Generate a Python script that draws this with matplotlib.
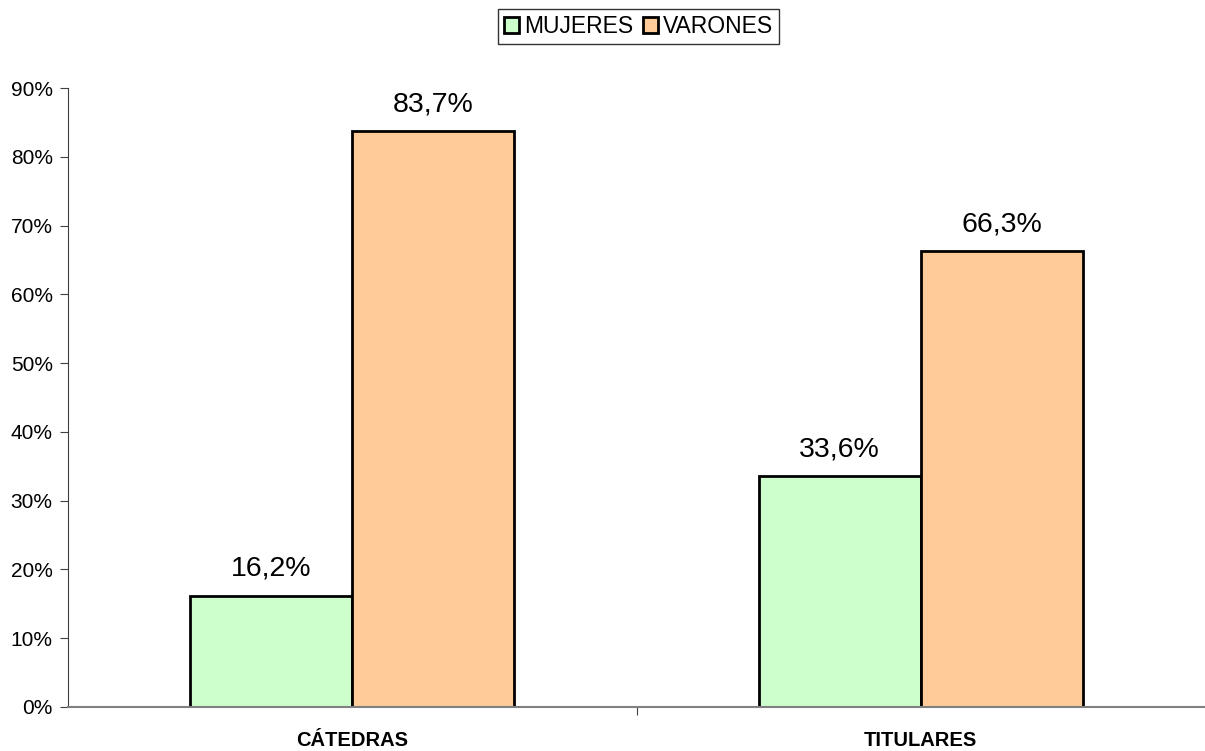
import matplotlib.pyplot as plt
import numpy as np
from matplotlib.ticker import FuncFormatter, FixedLocator

plt.rcParams['font.family'] = ['Liberation Sans', 'DejaVu Sans']

categorias = ['CÁTEDRAS', 'TITULARES']
mujeres = [16.2, 33.6]
varones = [83.7, 66.3]

fig = plt.figure(figsize=(12.05, 7.51), dpi=100)
ax = fig.add_axes([68 / 1205, 1 - 707 / 751, 1 - 68 / 1205, (707 - 88) / 751])

x = np.arange(len(categorias)) + 0.5
w = 0.285
b1 = ax.bar(x - w / 2, mujeres, w, color='#CCFFCC', edgecolor='black', linewidth=2, label='MUJERES')
b2 = ax.bar(x + w / 2, varones, w, color='#FFCC99', edgecolor='black', linewidth=2, label='VARONES')

for barras, vals in ((b1, mujeres), (b2, varones)):
    for r, v in zip(barras, vals):
        ax.text(r.get_x() + r.get_width() / 2, v + 2.0, f'{v:.1f}%'.replace('.', ','),
                ha='center', va='bottom', fontsize=20.5)

ax.set_xlim(0, 2)
ax.set_ylim(0, 90)
ax.set_yticks(np.arange(0, 91, 10))
ax.yaxis.set_major_formatter(FuncFormatter(lambda v, p: f'{v:.0f}%'))
ax.xaxis.set_major_locator(FixedLocator([1]))
ax.set_xticklabels([''])
ax.xaxis.set_minor_locator(FixedLocator(x))
ax.set_xticklabels(categorias, minor=True, fontweight='bold', fontsize=14.5)
ax.tick_params(axis='x', which='minor', length=0, pad=17)
ax.tick_params(axis='x', which='major', length=6, color='#404040')
ax.tick_params(axis='y', length=6, labelsize=15, color='#404040', pad=5)

for s in ('top', 'right'):
    ax.spines[s].set_visible(False)
ax.spines['left'].set_color('#404040')
ax.spines['bottom'].set_color('#808080')
ax.spines['bottom'].set_linewidth(1.5)

leg = fig.legend(loc='upper center', bbox_to_anchor=(0.53, 1.003), ncol=2, fontsize=16.5,
                 frameon=True, fancybox=False, edgecolor='black', handlelength=0.65,
                 handleheight=0.65, handletextpad=0.25, columnspacing=0.4, borderpad=0.25)
leg.get_frame().set_linewidth(1.0)

fig.savefig('out.png', dpi=100)
